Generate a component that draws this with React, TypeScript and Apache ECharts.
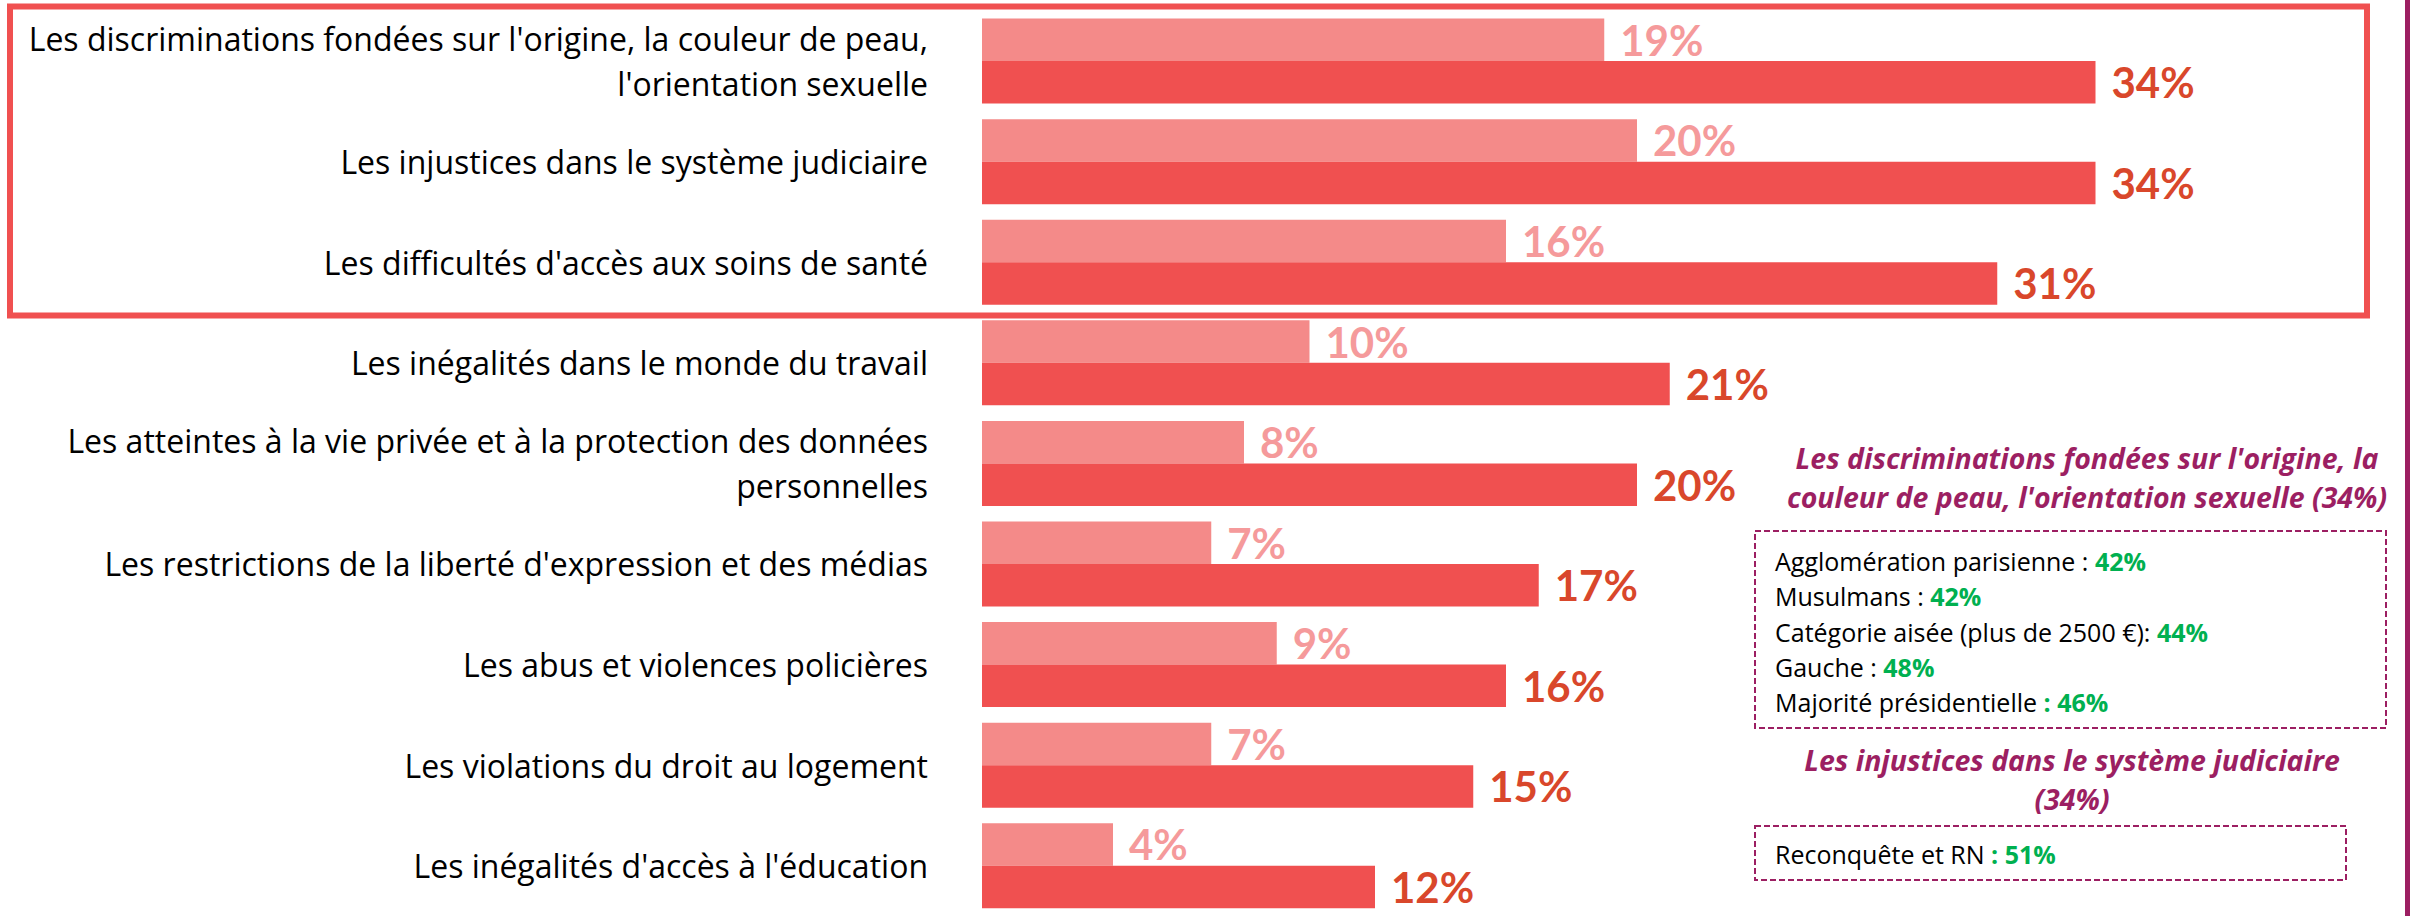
import React, { useEffect, useRef } from "react";
import * as echarts from "echarts";

const categories = [
  "Les discriminations fondées sur l'origine, la couleur de peau,\nl'orientation sexuelle",
  "Les injustices dans le système judiciaire",
  "Les difficultés d'accès aux soins de santé",
  "Les inégalités dans le monde du travail",
  "Les atteintes à la vie privée et à la protection des données\npersonnelles",
  "Les restrictions de la liberté d'expression et des médias",
  "Les abus et violences policières",
  "Les violations du droit au logement",
  "Les inégalités d'accès à l'éducation",
];
const firstValues = [19, 20, 16, 10, 8, 7, 9, 7, 4];
const totalValues = [34, 34, 31, 21, 20, 17, 16, 15, 12];

const title1 = "Les discriminations fondées sur l'origine, la\ncouleur de peau, l'orientation sexuelle (34%)";
const box1Labels = [
  "Agglomération parisienne : ",
  "Musulmans : ",
  "Catégorie aisée (plus de 2500 €): ",
  "Gauche : ",
  "Majorité présidentielle ",
];
const box1Values = ["42%", "42%", "44%", "48%", ": 46%"];
const title2 = "Les injustices dans le système judiciaire\n(34%)";
const box2Labels = ["Reconquête et RN "];
const box2Values = [": 51%"];

const FONT = "'Open Sans', Lato, sans-serif";
const NUMFONT = "Lato, 'Open Sans', sans-serif";
const PURPLE = "#9C1F62";
const GREEN = "#00B050";

export default function App() {
  const ref = useRef<HTMLDivElement>(null);
  useEffect(() => {
    document.body.style.margin = "0";
    const chart = echarts.init(ref.current!, null, { renderer: "svg" });

    const boxText = (labels: string[], values: string[], x: number, y0: number, step: number) =>
      labels.map((l, i) => ({
        type: "text",
        x,
        y: y0 + i * step,
        style: {
          text: `{a|${l}}{b|${values[i]}}`,
          verticalAlign: "middle",
          rich: {
            a: { fontFamily: FONT, fontSize: 25, fill: "#000", color: "#000" },
            b: { fontFamily: FONT, fontSize: 25, fontWeight: "bold", fill: GREEN, color: GREEN },
          },
        },
      }));

    const titleStyle = {
      align: "center",
      verticalAlign: "middle",
      fontFamily: FONT,
      fontSize: 28.5,
      fontWeight: "bold",
      fontStyle: "italic",
      lineHeight: 39,
      fill: PURPLE,
    };

    chart.setOption({
      animation: false,
      backgroundColor: "#fff",
      grid: { left: 982, top: 10.75, height: 913.5, width: 1310, containLabel: false },
      xAxis: {
        type: "value",
        min: 0,
        max: 40,
        show: false,
        splitLine: { show: false },
      },
      yAxis: {
        type: "category",
        inverse: true,
        data: categories,
        axisLine: { show: false },
        axisTick: { show: false },
        axisLabel: {
          fontFamily: FONT,
          fontSize: 32,
          color: "#000",
          margin: 54,
          lineHeight: 45,
          align: "right",
        },
      },
      series: [
        {
          type: "bar",
          data: firstValues,
          barWidth: 42.5,
          barGap: "0%",
          itemStyle: { color: "#F48A89" },
          label: {
            show: true,
            position: "right",
            distance: 16,
            formatter: "{c}%",
            fontFamily: NUMFONT,
            fontSize: 42,
            fontWeight: "bold",
            color: "#F59A9B",
          },
        },
        {
          type: "bar",
          data: totalValues,
          barWidth: 42.5,
          barGap: "0%",
          itemStyle: { color: "#F05050" },
          label: {
            show: true,
            position: "right",
            distance: 16,
            formatter: "{c}%",
            fontFamily: NUMFONT,
            fontSize: 42,
            fontWeight: "bold",
            color: "#D9472B",
          },
        },
      ],
      graphic: [
        {
          type: "rect",
          shape: { x: 10, y: 6.5, width: 2357, height: 309 },
          style: { fill: "none", stroke: "#F05050", lineWidth: 6 },
          z: 10,
        },
        {
          type: "rect",
          shape: { x: 2405, y: 0, width: 5, height: 916 },
          style: { fill: PURPLE },
        },
        {
          type: "text",
          x: 2087,
          y: 477.5,
          style: { text: title1, ...titleStyle },
        },
        {
          type: "rect",
          shape: { x: 1755, y: 531, width: 631, height: 197 },
          style: { fill: "none", stroke: PURPLE, lineWidth: 2, lineDash: [6, 3] },
        },
        ...boxText(box1Labels, box1Values, 1775, 561, 35.3),
        {
          type: "text",
          x: 2072,
          y: 779,
          style: { text: title2, ...titleStyle },
        },
        {
          type: "rect",
          shape: { x: 1755, y: 826, width: 591, height: 54 },
          style: { fill: "none", stroke: PURPLE, lineWidth: 2, lineDash: [6, 3] },
        },
        ...boxText(box2Labels, box2Values, 1775, 854, 35.3),
      ],
    });
    return () => chart.dispose();
  }, []);
  return <div ref={ref} style={{ width: 2410, height: 916 }} />;
}
